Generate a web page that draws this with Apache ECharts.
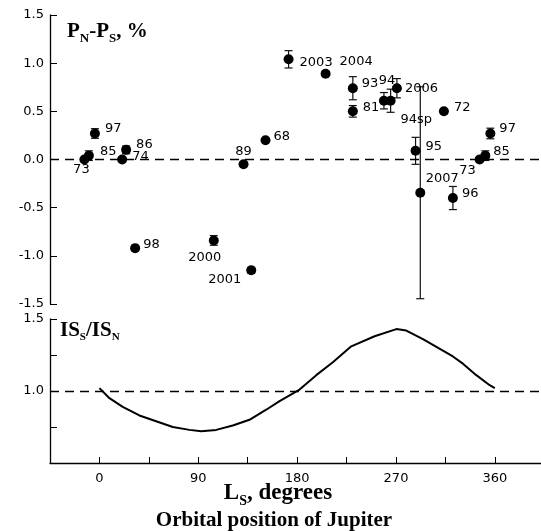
<!DOCTYPE html>
<html><head><meta charset="utf-8">
<script src="https://cdn.jsdelivr.net/npm/echarts@6/dist/echarts.min.js"></script>
<style>html,body{margin:0;padding:0;background:#fff}#c{width:541px;height:531px}</style>
</head><body><div id="c"></div>
<script>
// ---- data ----
const yearLabels = ['73','85','97','74','86','98','2000','89','2001','68','2003','2004','93','81','94','','2006','95','2007','72','96','73','85','97'];
const lsDeg      = [-13.7,-9.6,-4.1,20.7,24.3,32.5,104.1,131.2,138.2,151.2,172.2,205.9,230.7,230.7,259.0,265.1,270.8,287.8,292.1,313.6,321.8,346.1,351.3,355.9];
const pnMinusPs  = [0.00,0.04,0.27,0.00,0.10,-0.92,-0.84,-0.05,-1.15,0.20,1.04,0.89,0.74,0.50,0.61,0.61,0.74,0.09,-0.345,0.50,-0.40,0.00,0.04,0.27];
const errPnPs    = [0,0.05,0.05,0,0.04,0,0.05,0.02,0.03,0,0.09,0.02,0.12,0.06,0.085,0.12,0.10,0.14,1.10,0,0.12,0,0.05,0.055];
const extraLabels = ['94sp'];
const extraLs     = [288.5];
const extraVal    = [0.413];
const curveLs    = [0,9.1,21.2,36.4,51.6,66.8,82.0,92.6,106.3,121.4,136.6,151.8,164.0,173.1,182.2,197.4,212.5,229.3,250.5,270.3,279.4,294.5,312.7,321.8,330.9,343.1,355.3,360];
const curveRatio = [1.02,0.95,0.89,0.83,0.79,0.75,0.73,0.72,0.73,0.76,0.80,0.87,0.93,0.97,1.01,1.11,1.20,1.31,1.38,1.43,1.42,1.36,1.28,1.24,1.19,1.11,1.04,1.02];
const xTickLabels = [0,90,180,270,360];
const yTopTicks = [-1.5,-1.0,-0.5,0.0,0.5,1.0,1.5];
const yBottomLabels = [1.0,1.5];

// ---- styling / layout ----
const labelPlace = [
  ['bottom',[-3,-6]],['right',[1,-4]],['right',[0,-5]],['right',[0,-3]],['right',[0,-5]],
  ['right',[-2,-4]],['bottom',[-9,1]],['top',[0,4]],['left',[0,9]],['right',[-2,-4]],
  ['right',[1,3]],['right',[4,-12]],['right',[-1,-5]],['right',[0,-4]],['top',[3,-4]],
  null,['right',[-2,0]],['right',[0,-4]],['top',[22,2]],['right',[0,-4]],
  ['right',[-1,-4]],['bottom',[-12,-5]],['right',[-2,-4]],['right',[-1,-5]]
];
const SANS = 'DejaVu Sans';
const SERIF = 'Liberation Serif';
const tickFont = {color:'#000', fontFamily:SANS, fontSize:13};

const pts = lsDeg.map((x,i)=>{
  const item = {value:[x,pnMinusPs[i],errPnPs[i]]};
  const p = labelPlace[i];
  if (p && yearLabels[i]) {
    item.label = {show:true, formatter:yearLabels[i], position:p[0], offset:p[1],
      color:'#000', fontFamily:SANS, fontSize:13};
  }
  return item;
});
const annot = extraLs.map((x,i)=>({value:[x,extraVal[i]],
  label:{show:true, formatter:extraLabels[i], position:'inside', color:'#000', fontFamily:SANS, fontSize:13}}));
const errData = lsDeg.map((x,i)=>[x,pnMinusPs[i],errPnPs[i]]);
const curve = curveLs.map((x,i)=>[x,curveRatio[i]]);

const dash = {type:[9,6], width:1.3, color:'#000', opacity:1};

const chart = echarts.init(document.getElementById('c'), null, {renderer:'canvas'});
const sub = {fontFamily:SERIF, fontWeight:'bold', fontSize:13, lineHeight:13, padding:[11,0,0,0], verticalAlign:'top', fill:'#000'};
const big = {fontFamily:SERIF, fontWeight:'bold', fontSize:21, lineHeight:24, verticalAlign:'top', fill:'#000'};
const bigL = {fontFamily:SERIF, fontWeight:'bold', fontSize:23, lineHeight:26, verticalAlign:'top', fill:'#000'};
const subL = {fontFamily:SERIF, fontWeight:'bold', fontSize:14, lineHeight:14, padding:[12,0,0,0], verticalAlign:'top', fill:'#000'};
const subSmall = {fontFamily:SERIF, fontWeight:'bold', fontSize:11, lineHeight:11, padding:[12,0,0,0], verticalAlign:'top', fill:'#000'};
chart.setOption({
  animation:false,
  backgroundColor:'#fff',
  grid:[
    {left:50, top:15, width:491, height:289},
    {left:50, top:319, width:491, height:144}
  ],
  xAxis:[
    {gridIndex:0, type:'value', min:-45, max:402, interval:45, show:false},
    {gridIndex:1, type:'value', min:-45, max:402, interval:45,
      axisLine:{onZero:false, lineStyle:{color:'#000', width:1.3}},
      axisTick:{inside:true, length:6, lineStyle:{color:'#000'}},
      splitLine:{show:false},
      axisLabel:Object.assign({margin:9, showMaxLabel:false, formatter:v=>xTickLabels.includes(v)?String(v):''}, tickFont)}
  ],
  yAxis:[
    {gridIndex:0, type:'value', min:-1.5, max:1.5, interval:0.5,
      axisLine:{show:true, onZero:false, lineStyle:{color:'#000', width:1.3}},
      axisTick:{show:true, inside:true, length:7, lineStyle:{color:'#000'}},
      splitLine:{show:false},
      axisLabel:Object.assign({margin:6, formatter:v=>yTopTicks.some(t=>Math.abs(t-v)<1e-9)?v.toFixed(1):''}, tickFont)},
    {gridIndex:1, type:'value', min:0.5, max:1.5, interval:0.25,
      axisLine:{show:true, onZero:false, lineStyle:{color:'#000', width:1.3}},
      axisTick:{show:true, inside:true, length:7, lineStyle:{color:'#000'}},
      splitLine:{show:false},
      axisLabel:Object.assign({margin:6, formatter:v=>yBottomLabels.some(t=>Math.abs(t-v)<1e-9)?v.toFixed(1):''}, tickFont)}
  ],
  series:[
    {type:'custom', xAxisIndex:0, yAxisIndex:0, data:errData, silent:true, z:2,
      renderItem:(params, api)=>{
        const x=api.value(0), y=api.value(1), e=api.value(2);
        if (!e) return null;
        const t=api.coord([x,y+e]), b=api.coord([x,y-e]), hw=4;
        const st={stroke:'#111', lineWidth:1.2};
        return {type:'group', children:[
          {type:'line', shape:{x1:t[0],y1:t[1],x2:b[0],y2:b[1]}, style:st},
          {type:'line', shape:{x1:t[0]-hw,y1:t[1],x2:t[0]+hw,y2:t[1]}, style:st},
          {type:'line', shape:{x1:b[0]-hw,y1:b[1],x2:b[0]+hw,y2:b[1]}, style:st}
        ]};
      }},
    {type:'scatter', xAxisIndex:0, yAxisIndex:0, data:pts, symbol:'circle', symbolSize:10,
      itemStyle:{color:'#000', opacity:1}, z:3,
      markLine:{silent:true, symbol:'none', label:{show:false}, lineStyle:dash, data:[{yAxis:0}]}},
    {type:'scatter', xAxisIndex:0, yAxisIndex:0, data:annot, symbolSize:0, z:3,
      itemStyle:{color:'#000', opacity:1}},
    {type:'line', xAxisIndex:1, yAxisIndex:1, data:curve, showSymbol:false, smooth:false,
      lineStyle:{color:'#000', width:2, opacity:1}, z:3,
      markLine:{silent:true, symbol:'none', label:{show:false}, lineStyle:dash, data:[{yAxis:1}]}}
  ],
  graphic:[
    {type:'text', left:67, top:21, style:{text:'{b|P}{s|N}{b|-P}{s|S}{b|, %}', rich:{b:big, s:sub}}},
    {type:'text', left:60, top:320, style:{text:'{b|IS}{s|S}{b|/IS}{s|N}', rich:{b:big, s:subSmall}}},
    {type:'text', x:278, y:482, style:{text:'{b|L}{s|S}{b|, degrees}', align:'center', rich:{b:bigL, s:subL}}},
    {type:'text', x:274, y:521, style:{text:'Orbital position of Jupiter', align:'center', verticalAlign:'middle',
      fontFamily:SERIF, fontWeight:'bold', fontSize:21, fill:'#000'}}
  ]
});
</script></body></html>
